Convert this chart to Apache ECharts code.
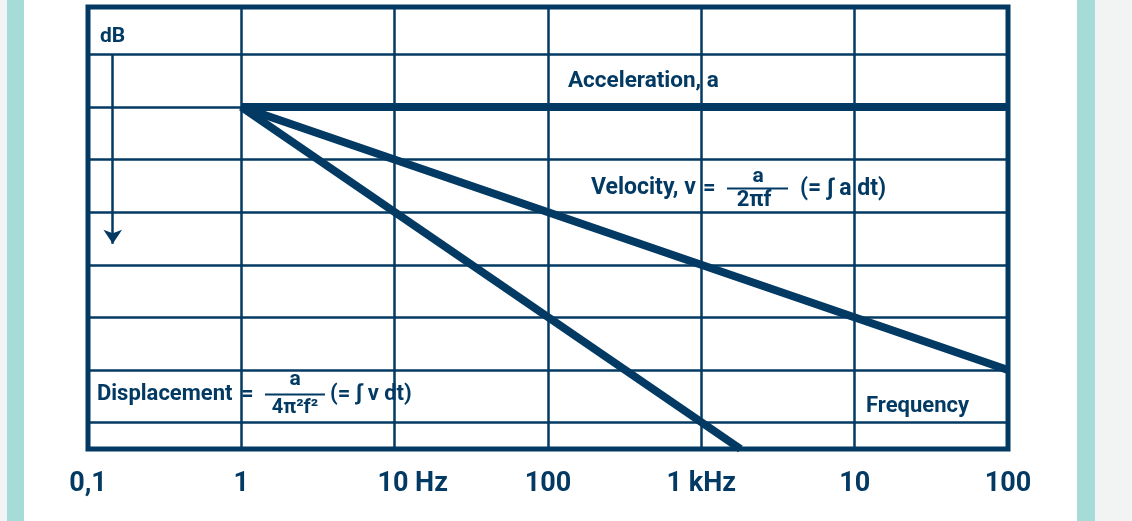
<!DOCTYPE html>
<html><head><meta charset="utf-8">
<script src="https://cdn.jsdelivr.net/npm/echarts@6/dist/echarts.min.js"></script>
<style>
html,body{margin:0;padding:0;width:1132px;height:521px;overflow:hidden;background:#f2f4f3;}
#bg{position:absolute;left:7px;top:0;width:1088px;height:521px;background:#fff;box-sizing:border-box;border-left:17px solid #a5dcd7;border-right:18px solid #a5dcd7;}
#chart{position:absolute;left:0;top:0;width:1132px;height:521px;}
</style></head><body>
<div id="bg"></div><div id="chart"></div>
<script>
const NAVY = '#033a63';
const FONT = 'Roboto';

// x ticks (log frequency axis) and their labels
const xTickValues = [0.1, 1, 10, 100, 1000, 10000, 100000];
const xTickLabels = ['0,1', '1', '10 Hz', '100', '1 kHz', '10', '100'];
// horizontal grid levels (dB)
const dbGridLevels = [20, 0, -20, -40, -60, -80, -100, -120];

// series: frequency (Hz) and level (dB)
const accelFreq = [1, 100000];
const accelDb = [0, 0];
const velocityFreq = [1, 100000];
const velocityDb = [0, -100];
const displacementFreq = [1, 1800];
const displacementDb = [0, -130];

// dB arrow
const dbArrowFreq = 0.145;
const dbArrowFrom = 20;
const dbArrowTo = -52;

function pairs(xs, ys) { return xs.map((x, i) => [x, ys[i]]); }

const chart = echarts.init(document.getElementById('chart'), null, {renderer: 'canvas'});

const lineSeries = (name, data, extra) => Object.assign({
  name, type: 'line', data, showSymbol: false, symbol: 'none', clip: true,
  animation: false, silent: true,
  lineStyle: {width: 8, color: NAVY, cap: 'butt', join: 'miter'}, z: 3
}, extra || {});

const labelStyle = {fontSize: 27, fontWeight: 'bold', fontFamily: FONT, color: NAVY, lineHeight: 30};

function txt(text, x, y, size, align) {
  return {type: 'text', x, y, z: 100, silent: true,
    style: {text, fill: NAVY, fontSize: size, fontWeight: 'bold', fontFamily: FONT,
      align: align || 'left', textAlign: align || 'left', verticalAlign: 'middle', textVerticalAlign: 'middle'}};
}
function bar(x1, x2, y) {
  return {type: 'line', z: 100, silent: true, shape: {x1, y1: y, x2, y2: y}, style: {stroke: NAVY, lineWidth: 2}};
}

chart.setOption({
  animation: false,
  grid: {left: 88, right: 124, top: 7, bottom: 72, show: true, borderColor: NAVY, borderWidth: 5, backgroundColor: 'transparent'},
  xAxis: {
    type: 'log', logBase: 10, min: xTickValues[0], max: xTickValues[xTickValues.length - 1],
    axisLine: {show: false}, axisTick: {show: false},
    splitLine: {show: true, lineStyle: {color: NAVY, width: 2.5}},
    axisLabel: {
      margin: 20,
      formatter: function (v) {
        const i = Math.round(Math.log10(v)) + 1;
        const t = xTickLabels[i];
        return i === 2 ? '{hz|' + t + '}' : '{n|' + t + '}';
      },
      rich: {n: Object.assign({}, labelStyle), hz: Object.assign({padding: [0, 0, 0, 36]}, labelStyle)}
    }
  },
  yAxis: {
    type: 'value', min: -130, max: 38,
    axisLine: {show: false}, axisTick: {show: false}, axisLabel: {show: false}, splitLine: {show: false}
  },
  series: [
    lineSeries('Acceleration', pairs(accelFreq, accelDb), {
      markLine: {
        silent: true, animation: false, symbol: ['none', 'none'],
        label: {show: false},
        lineStyle: {color: NAVY, width: 2.5, type: 'solid'},
        data: dbGridLevels.map(v => ({yAxis: v, lineStyle: {color: NAVY, width: 2.5, type: 'solid'}})).concat([
          [{coord: [dbArrowFreq, dbArrowFrom], symbol: 'none', lineStyle: {color: NAVY, width: 2.5, type: 'solid'}},
           {coord: [dbArrowFreq, dbArrowTo], symbol: 'arrow', symbolSize: 14}]
        ])
      }
    }),
    lineSeries('Velocity', pairs(velocityFreq, velocityDb)),
    lineSeries('Displacement', pairs(displacementFreq, displacementDb))
  ],
  graphic: [
    txt('dB', 100, 37, 21),
    txt('Acceleration, a', 568, 81, 22.5),
    txt('Velocity, v', 591, 188, 23),
    txt('=', 703, 188, 22),
    txt('a', 758, 177, 21, 'center'),
    bar(727, 788, 188.5),
    txt('2\u03C0f', 754, 200, 22, 'center'),
    txt('(= \u222B a dt)', 800, 189, 23),
    txt('Displacement', 97, 394, 22),
    txt('=', 241, 394, 22),
    txt('a', 295, 380, 21, 'center'),
    bar(265, 325, 394.5),
    txt('4\u03C0\u00B2f\u00B2', 295, 408, 20, 'center'),
    txt('(= \u222B v dt)', 330, 394, 22),
    txt('Frequency', 866, 406, 22)
  ]
});
</script>
</body></html>
